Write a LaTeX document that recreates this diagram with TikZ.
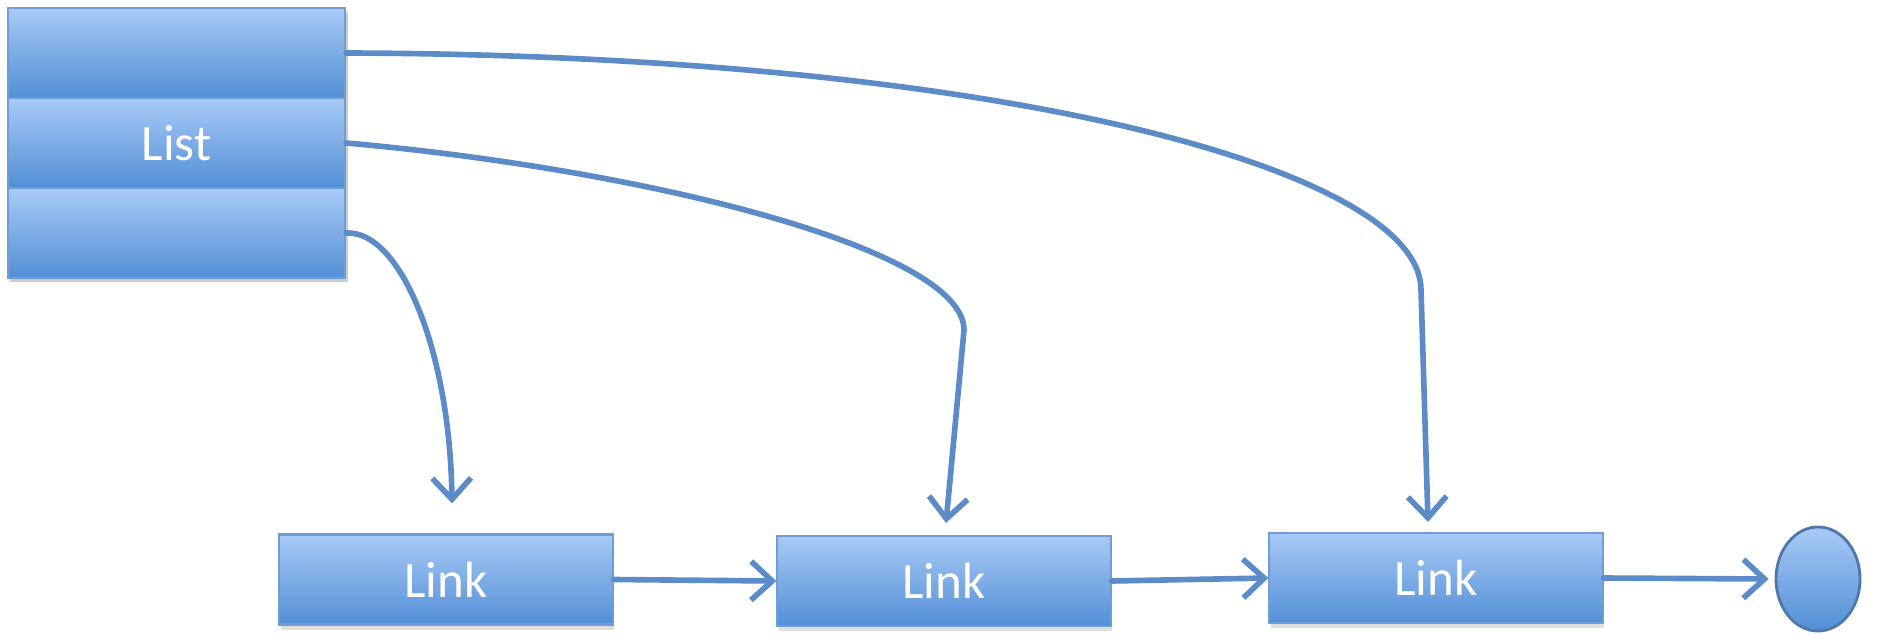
\documentclass[tikz,border=0pt]{standalone}
\usepackage{fontspec}
\setmainfont{Carlito}
\usetikzlibrary{shapes.geometric,shadows,arrows.meta,calc}
\definecolor{topblue}{RGB}{168,202,247}
\definecolor{botblue}{RGB}{82,143,214}
\definecolor{edgeblue}{RGB}{110,158,214}
\definecolor{linkblue}{RGB}{92,140,200}
\tikzset{
  boxfill/.style={draw=edgeblue, line width=0.6pt, top color=topblue, bottom color=botblue,
     text=white, font=\fontsize{14.5}{16}\selectfont, inner sep=0pt},
  listsec/.style={boxfill, minimum width=3.37cm, minimum height=0.9cm},
  linkbox/.style={boxfill, minimum width=3.33cm, minimum height=0.9cm,
     drop shadow={opacity=0.25, shadow xshift=0.5pt, shadow yshift=-1.5pt}},
  endcirc/.style={ellipse, draw=linkblue!85!black, line width=0.8pt, top color=topblue, bottom color=botblue,
     minimum width=0.84cm, minimum height=1.04cm, inner sep=0pt},
  conn/.style={draw=linkblue, line width=1.6pt, line cap=round,
     -{Straight Barb[length=6pt,width=11pt,line width=1.6pt]}}
}
\begin{document}
\begin{tikzpicture}[x=0.01cm,y=-0.01cm]
\useasboundingbox (0,0) rectangle (1877,634);
\fill[black,opacity=0.2] (10,12) rectangle (348,282);
\node[listsec] (l1) at (176.5,53) {};
\node[listsec] (l2) at (176.5,143) {List};
\node[listsec] (l3) at (176.5,233) {};
\node[linkbox] (k1) at (446,579.5) {Link};
\node[linkbox] (k2) at (944,581) {Link};
\node[linkbox] (k3) at (1436,578) {Link};
\node[endcirc] (c) at (1818,579) {};
\coordinate (b1) at (1421,290);
\coordinate (b2) at (964,330);
\draw[conn] (l1.east) .. controls (1000,55) and (1421,170) .. (b1) -- ($(k3.north)+(-8,-10)$);
\draw[conn] (l2.east) .. controls (650,170) and (964,250) .. (b2) -- ($(k2.north)+(2,-12)$);
\draw[conn] (l3.east) .. controls (400,230) and (450,350) .. ($(k1.north)+(6,-30)$);
\draw[conn] (k1.east) -- (k2.west);
\draw[conn] (k2.east) -- (k3.west);
\draw[conn] (k3.east) -- ($(c.west)+(-6,0)$);
\end{tikzpicture}
\end{document}
